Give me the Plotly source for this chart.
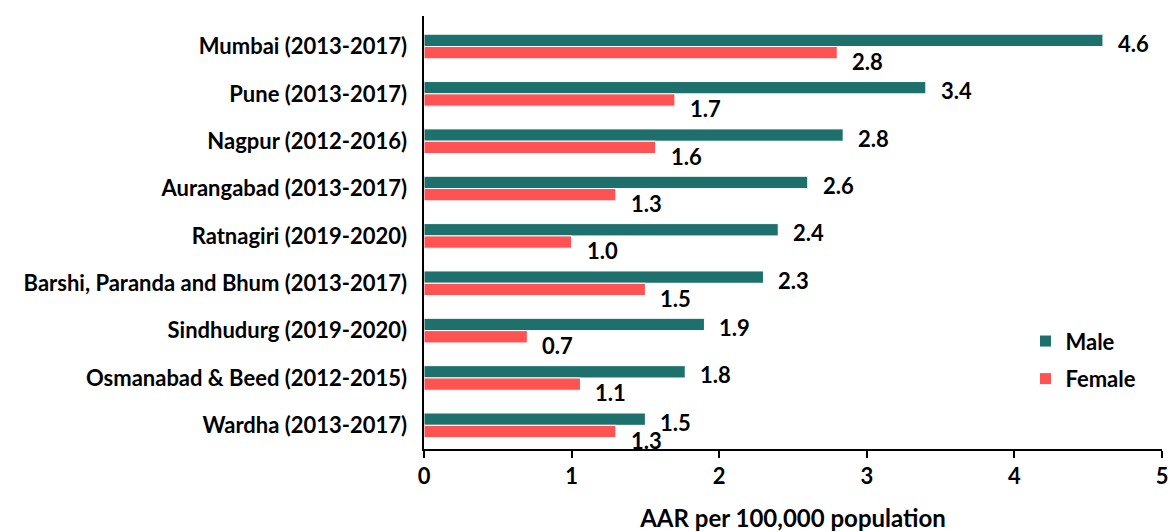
import plotly.graph_objects as go

categories = [
    "Mumbai (2013-2017)",
    "Pune (2013-2017)",
    "Nagpur (2012-2016)",
    "Aurangabad (2013-2017)",
    "Ratnagiri (2019-2020)",
    "Barshi, Paranda and Bhum (2013-2017)",
    "Sindhudurg (2019-2020)",
    "Osmanabad & Beed (2012-2015)",
    "Wardha (2013-2017)",
]
male = [4.60, 3.40, 2.84, 2.60, 2.40, 2.30, 1.90, 1.77, 1.50]
female = [2.80, 1.70, 1.57, 1.30, 1.00, 1.50, 0.70, 1.06, 1.30]
male_labels = ["4.6", "3.4", "2.8", "2.6", "2.4", "2.3", "1.9", "1.8", "1.5"]
female_labels = ["2.8", "1.7", "1.6", "1.3", "1.0", "1.5", "0.7", "1.1", "1.3"]

MALE_C = "#1D706B"
FEMALE_C = "#FF5252"
FONT = "Lato"
FS = 22

fig = go.Figure()
fig.add_trace(go.Bar(y=categories, x=male, orientation="h", name="Male",
                     marker=dict(color=MALE_C, line=dict(color="white", width=1)),
                     legendgroup="m"))
fig.add_trace(go.Bar(y=categories, x=female, orientation="h", name="Female",
                     marker=dict(color=FEMALE_C, line=dict(color="white", width=1)),
                     legendgroup="f"))

annotations = []
for c, v, t in zip(categories, male, male_labels):
    annotations.append(dict(x=v, y=c, text=t, showarrow=False, xanchor="left",
                            xshift=13, yshift=3,
                            font=dict(size=FS, color="black", family=FONT, weight="bold")))
for c, v, t in zip(categories, female, female_labels):
    annotations.append(dict(x=v, y=c, text=t, showarrow=False, xanchor="left",
                            xshift=13, yshift=-15,
                            font=dict(size=FS, color="black", family=FONT, weight="bold")))

fig.update_layout(
    width=1160, height=524,
    margin=dict(l=416, r=6, t=8, b=83),
    plot_bgcolor="white", paper_bgcolor="white",
    barmode="group", bargap=0.48, bargroupgap=0,
    font=dict(family=FONT, size=FS, color="black", weight="bold"),
    annotations=annotations,
    legend=dict(x=0.815, y=0.205, xanchor="left", yanchor="middle",
                font=dict(size=FS, family=FONT, weight="bold"), tracegroupgap=6,
                bgcolor="rgba(0,0,0,0)"),
    xaxis=dict(range=[0, 5], tickvals=[0, 1, 2, 3, 4, 5], showgrid=False, zeroline=False,
               automargin=False, ticklabeloverflow="allow",
               showline=True, linecolor="black", linewidth=1.5, ticks="outside",
               ticklen=7, tickcolor="black", tickwidth=1.5,
               tickfont=dict(size=FS, family=FONT, weight="bold"),
               title=dict(text="AAR per 100,000 population",
                          font=dict(size=24, family=FONT, weight="bold"),
                          standoff=23)),
    yaxis=dict(autorange="reversed", showgrid=False, showline=True, linecolor="black",
               automargin=False, linewidth=1.5, ticks="", ticksuffix="  ",
               tickfont=dict(size=FS, family=FONT, weight="bold")),
)

fig.write_html("out.html")
